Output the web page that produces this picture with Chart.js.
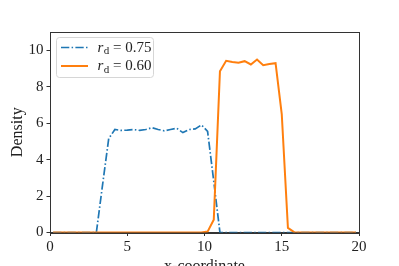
<!DOCTYPE html>
<html><head><meta charset="utf-8">
<script src="https://cdn.jsdelivr.net/npm/chart.js@4"></script>
<style>html,body{margin:0;padding:0;background:#fff;}#c{display:block;}</style>
</head><body>
<canvas id="c" width="399" height="266"></canvas>
<script>
const xCoords = [0.2,0.6,1.0,1.4,1.8,2.2,2.6,3.0,3.4,3.8,4.2,4.6,5.0,5.4,5.8,6.2,6.6,7.0,7.4,7.8,
  8.2,8.6,9.0,9.4,9.8,10.2,10.6,11.0,11.4,11.8,12.2,12.6,13.0,13.4,13.8,14.2,14.6,15.0,15.4,15.8,
  16.2,16.6,17.0,17.4,17.8,18.2,18.6,19.0,19.4,19.8];
const densityRd075 = [0,0,0,0,0,0,0,0,2.6,5.15,5.65,5.6,5.62,5.65,5.6,5.65,5.75,5.65,5.58,5.65,
  5.72,5.48,5.65,5.68,5.9,5.55,2.8,0,0,0,0,0,0,0,0,0,0,0,0,0,
  0,0,0,0,0,0,0,0,0,0];
const densityRd060 = [0,0,0,0,0,0,0,0,0,0,0,0,0,0,0,0,0,0,0,0,
  0,0,0,0,0,0.05,0.7,8.85,9.42,9.35,9.31,9.4,9.22,9.49,9.18,9.24,9.29,6.5,0.25,0.02,
  0,0,0,0,0,0,0,0,0,0];
const seriesLabels = ['0.75', '0.60'];
const xTicks = [0, 5, 10, 15, 20];
const yTicks = [0, 2, 4, 6, 8, 10];

const BLUE = '#1f77b4', ORANGE = '#ff7f0e';
const SERIF = '"Liberation Serif", "DejaVu Serif", serif';
const pts = ys => xCoords.map((x, i) => ({x: x, y: ys[i]}));

const framePlugin = {
  id: 'frame',
  afterDraw(chart) {
    const {ctx, chartArea: a} = chart;
    ctx.save();
    ctx.strokeStyle = '#333';
    ctx.lineWidth = 1;
    ctx.strokeRect(Math.round(a.left) + 0.5, Math.round(a.top) + 0.5,
      Math.round(a.right - a.left), Math.round(a.bottom - a.top));
    // legend
    const bx = 56.5, by = 37.5, bw = 97, bh = 40, r = 3;
    ctx.beginPath();
    ctx.moveTo(bx + r, by);
    ctx.arcTo(bx + bw, by, bx + bw, by + bh, r);
    ctx.arcTo(bx + bw, by + bh, bx, by + bh, r);
    ctx.arcTo(bx, by + bh, bx, by, r);
    ctx.arcTo(bx, by, bx + bw, by, r);
    ctx.closePath();
    ctx.fillStyle = 'rgba(255,255,255,0.8)';
    ctx.fill();
    ctx.strokeStyle = '#d6d6d6';
    ctx.stroke();
    const rows = [
      {y: 47.5, color: BLUE, dash: [8.3, 2.3, 1.5, 2.3], lw: 1.7, val: seriesLabels[0]},
      {y: 66, color: ORANGE, dash: [], lw: 2, val: seriesLabels[1]}
    ];
    rows.forEach(rw => {
      ctx.beginPath();
      ctx.setLineDash(rw.dash);
      ctx.strokeStyle = rw.color;
      ctx.lineWidth = rw.lw;
      ctx.moveTo(61, rw.y);
      ctx.lineTo(88, rw.y);
      ctx.stroke();
      ctx.setLineDash([]);
      ctx.fillStyle = '#222';
      ctx.textBaseline = 'alphabetic';
      let x = 97.5;
      const base = rw.y + 4;
      ctx.font = 'italic 15px ' + SERIF;
      ctx.fillText('r', x, base);
      x += ctx.measureText('r').width + 0.5;
      ctx.font = '11px ' + SERIF;
      ctx.fillText('d', x, base + 2.5);
      x += ctx.measureText('d').width;
      ctx.font = '15px ' + SERIF;
      ctx.fillText(' = ' + rw.val, x, base);
    });
    ctx.restore();
  }
};

new Chart(document.getElementById('c'), {
  type: 'line',
  data: {
    datasets: [
      {label: 'r_d = ' + seriesLabels[0], data: pts(densityRd075), borderColor: BLUE,
       borderWidth: 1.7, borderDash: [8.3, 2.3, 1.5, 2.3], pointRadius: 0, tension: 0, order: 1, fill: false},
      {label: 'r_d = ' + seriesLabels[1], data: pts(densityRd060), borderColor: ORANGE,
       borderWidth: 2, pointRadius: 0, tension: 0, order: 0, fill: false}
    ]
  },
  options: {
    responsive: false,
    animation: false,
    layout: {padding: {left: 0, top: 32, right: 40, bottom: 0}},
    plugins: {legend: {display: false}, tooltip: {enabled: false}},
    scales: {
      x: {
        type: 'linear', min: 0, max: 20,
        afterBuildTicks: s => { s.ticks = xTicks.map(v => ({value: v})); },
        afterFit: s => { s.height = 33.5; },
        grid: {drawOnChartArea: false, drawTicks: true, tickLength: 3.5, color: '#333'},
        border: {display: true, color: '#333', width: 1},
        ticks: {color: '#222', padding: 2.5, maxRotation: 0, autoSkip: false, font: {family: SERIF, size: 15}},
        title: {display: true, text: 'x-coordinate', color: '#222', font: {family: SERIF, size: 16},
                padding: {top: 0, bottom: -10}}
      },
      y: {
        type: 'linear', min: 0, max: 11,
        afterBuildTicks: s => { s.ticks = yTicks.map(v => ({value: v})); },
        afterFit: s => { s.width = 50; },
        grid: {drawOnChartArea: false, drawTicks: true, tickLength: 3.5, color: '#333'},
        border: {display: true, color: '#333', width: 1},
        ticks: {color: '#222', padding: 3, autoSkip: false, font: {family: SERIF, size: 15}},
        title: {display: true, text: 'Density', color: '#222', font: {family: SERIF, size: 16},
                padding: {top: 8, bottom: 0}}
      }
    }
  },
  plugins: [framePlugin]
});
</script>
</body></html>
